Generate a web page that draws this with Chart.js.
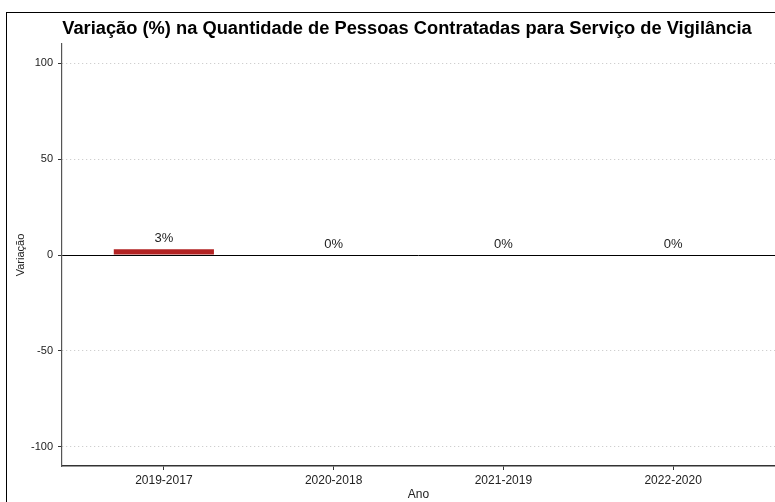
<!DOCTYPE html>
<html>
<head>
<meta charset="utf-8">
<script src="https://cdn.jsdelivr.net/npm/chart.js@4"></script>
<style>
  html, body { margin: 0; padding: 0; background: #fff; overflow: hidden; }
  #wrap { position: relative; width: 775px; height: 502px; overflow: hidden; }
  #frame { position: absolute; left: 6px; top: 12px; width: 800px; height: 520px;
           border-left: 1px solid #000; border-top: 1px solid #000; pointer-events: none; }
  #title { position: absolute; left: 47px; width: 720px; top: 17px; text-align: center;
           font-family: "Liberation Sans", Arial, sans-serif; font-weight: bold; font-size: 18.3px;
           color: #000; line-height: 22px; white-space: nowrap; }
  #cv { position: absolute; left: 0; top: 0; }
</style>
</head>
<body>
<div id="wrap">
  <canvas id="cv" width="775" height="502" style="width:775px;height:502px"></canvas>
  <div id="frame"></div>
  <div id="title">Variação (%) na Quantidade de Pessoas Contratadas para Serviço de Vigilância</div>
</div>
<script>
const categories = ["2019-2017", "2020-2018", "2021-2019", "2022-2020"];
const values = [3, 0, 0, 0];
const yTicks = [-100, -50, 0, 50, 100];
const xTitle = "Ano";
const yTitle = "Variação";

const FONT = '"Liberation Sans", Arial, sans-serif';

const labelPlugin = {
  id: 'barLabels',
  afterDatasetsDraw(chart) {
    const ctx = chart.ctx;
    const meta = chart.getDatasetMeta(0);
    ctx.save();
    ctx.font = '13px ' + FONT;
    ctx.fillStyle = '#222';
    ctx.textAlign = 'center';
    ctx.textBaseline = 'middle';
    meta.data.forEach((bar, i) => {
      ctx.fillText(values[i] + '%', bar.x, bar.y - 11);
    });
    ctx.restore();
  }
};

new Chart(document.getElementById('cv'), {
  type: 'bar',
  data: {
    datasets: [{
      data: values.map((v, i) => ({ x: i, y: v })),
      backgroundColor: '#B22222',
      borderWidth: 0,
      categoryPercentage: 0.59,
      barPercentage: 1
    }]
  },
  options: {
    responsive: false,
    animation: false,
    devicePixelRatio: 1,
    layout: { padding: { top: 44, left: 0, right: 0, bottom: 0 } },
    plugins: { legend: { display: false }, tooltip: { enabled: false }, title: { display: false } },
    scales: {
      x: {
        type: 'linear',
        offset: false,
        min: -0.6,
        max: 3.6,
        afterBuildTicks: (s) => { s.ticks = categories.map((_, i) => ({ value: i })); },
        afterFit: (s) => { s.height = 36; },
        ticks: {
          autoSkip: false,
          maxRotation: 0,
          padding: 3,
          color: '#222',
          font: { family: FONT, size: 12 },
          callback: (v) => categories[v]
        },
        grid: { offset: false, drawOnChartArea: false, drawTicks: true, tickLength: 4, tickColor: '#333', tickWidth: 1 },
        border: { display: true, color: '#333', width: 1.5 },
        title: { display: true, text: xTitle, color: '#222', font: { family: FONT, size: 12 }, padding: { top: 0, bottom: 0 } }
      },
      y: {
        min: -110,
        max: 110,
        afterBuildTicks: (s) => { s.ticks = yTicks.map(v => ({ value: v })); },
        afterFit: (s) => { s.width = 62; },
        ticks: {
          padding: 5,
          color: '#222',
          font: { family: FONT, size: 11 }
        },
        grid: {
          color: (c) => (c.tick && c.tick.value === 0) ? '#000' : '#c4c4c4',
          lineWidth: 1,
          tickLength: 4,
          tickColor: '#333',
          tickWidth: 1
        },
        border: {
          display: true, color: '#555', width: 1.2,
          dash: (c) => (c.tick && c.tick.value !== 0) ? [1, 3] : []
        },
        title: { display: true, text: yTitle, color: '#222', font: { family: FONT, size: 11 }, padding: { top: 14, bottom: 0 } }
      }
    }
  },
  plugins: [labelPlugin]
});
</script>
</body>
</html>
